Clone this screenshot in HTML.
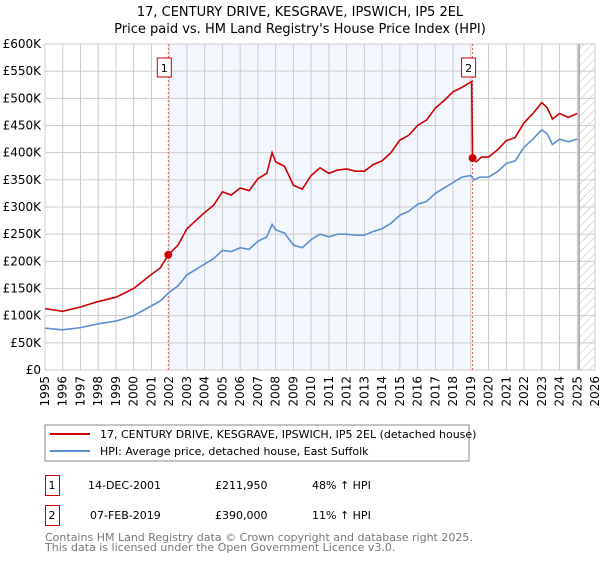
<!DOCTYPE html>
<html><head><meta charset="utf-8"><style>
body{margin:0;background:#fff;width:600px;height:560px;overflow:hidden;font-family:"DejaVu Sans","Liberation Sans",sans-serif}
svg text{font-family:"DejaVu Sans","Liberation Sans",sans-serif}
</style></head><body>
<svg id="chart" width="600" height="560">
<defs><pattern id="hatch" width="6" height="6" patternUnits="userSpaceOnUse" patternTransform="rotate(45)"><line x1="0" y1="0" x2="0" y2="6" stroke="#bbb" stroke-width="1"/></pattern></defs>
<text x="300" y="16" text-anchor="middle" font-size="13">17, CENTURY DRIVE, KESGRAVE, IPSWICH, IP5 2EL</text>
<text x="300" y="33" text-anchor="middle" font-size="13">Price paid vs. HM Land Registry's House Price Index (HPI)</text>
<g id="plot"></g>
<rect x="45" y="425" width="424" height="36" fill="#fff" stroke="#888"/>
<line x1="50" y1="434" x2="90" y2="434" stroke="#cc0000" stroke-width="2"/>
<text x="100" y="438" font-size="11">17, CENTURY DRIVE, KESGRAVE, IPSWICH, IP5 2EL (detached house)</text>
<line x1="50" y1="451" x2="90" y2="451" stroke="#5b8fd0" stroke-width="2"/>
<text x="100" y="455" font-size="11">HPI: Average price, detached house, East Suffolk</text>
<g font-size="11">
<rect x="45.5" y="475.5" width="14" height="20" fill="none" stroke="#cc0000"/>
<text x="52" y="489" text-anchor="middle">1</text>
<text x="88" y="489">14-DEC-2001</text><text x="215" y="489">£211,950</text><text x="312" y="489">48% ↑ HPI</text></g>
<g font-size="11">
<rect x="45.5" y="505.5" width="14" height="20" fill="none" stroke="#cc0000"/>
<text x="52" y="519" text-anchor="middle">2</text>
<text x="90" y="519">07-FEB-2019</text><text x="215" y="519">£390,000</text><text x="312" y="519">11% ↑ HPI</text></g>
<text x="45" y="541" font-size="11" fill="#777">Contains HM Land Registry data © Crown copyright and database right 2025.</text>
<text x="45" y="551" font-size="11" fill="#777">This data is licensed under the Open Government Licence v3.0.</text>
</svg>
<script>
const yTicks=[0,50,100,150,200,250,300,350,400,450,500,550,600];
const yLabels=["£0","£50K","£100K","£150K","£200K","£250K","£300K","£350K","£400K","£450K","£500K","£550K","£600K"];
const years=[1995,1996,1997,1998,1999,2000,2001,2002,2003,2004,2005,2006,2007,2008,2009,2010,2011,2012,2013,2014,2015,2016,2017,2018,2019,2020,2021,2022,2023,2024,2025,2026];
const hpiT=[1995,1996,1997,1998,1999,2000,2001,2001.5,2002,2002.5,2003,2004,2004.5,2005,2005.5,2006,2006.5,2007,2007.5,2007.8,2008,2008.5,2009,2009.5,2010,2010.5,2011,2011.5,2012,2012.5,2013,2013.5,2014,2014.5,2015,2015.5,2016,2016.5,2017,2017.5,2018,2018.5,2019,2019.2,2019.5,2020,2020.5,2021,2021.5,2022,2022.5,2023,2023.3,2023.6,2024,2024.5,2025];
const hpiV=[77,74,78,85,90,100,118,127,143,155,175,195,205,220,218,225,222,237,245,268,258,252,230,225,240,250,245,250,250,248,248,255,260,270,285,292,305,310,325,335,345,355,358,350,355,355,365,380,385,410,425,442,435,415,425,420,425];
const priceT=[1995,1996,1997,1998,1999,2000,2001,2001.5,2001.95,2002.5,2003,2004,2004.5,2005,2005.5,2006,2006.5,2007,2007.5,2007.8,2008,2008.5,2009,2009.5,2010,2010.5,2011,2011.5,2012,2012.5,2013,2013.5,2014,2014.5,2015,2015.5,2016,2016.5,2017,2017.5,2018,2018.5,2019.05,2019.1,2019.3,2019.6,2020,2020.5,2021,2021.5,2022,2022.5,2023,2023.3,2023.6,2024,2024.5,2025];
const priceV=[113,108,116,126,134,150,176,188,212,230,260,290,303,328,322,335,330,352,362,400,383,375,340,333,358,372,362,368,370,366,366,378,385,400,423,432,450,460,482,496,512,520,531,390,383,392,392,405,422,428,455,472,492,483,462,472,465,472];
const saleT=[2001.95,2019.1];
const saleV=[211.95,390];
const saleLabels=["1","2"];
const X0=45,X1=595,Y0=370,Y1=44;
const x=t=>X0+(t-1995)/(2026-1995)*(X1-X0);
const y=v=>Y0-v/600*(Y0-Y1);
const NS="http://www.w3.org/2000/svg";
const g=document.getElementById('plot');
function mk(tag,at){const e=document.createElementNS(NS,tag);for(const k in at)e.setAttribute(k,at[k]);g.appendChild(e);return e;}
let e;
e=mk('rect',{x:x(saleT[0]),y:Y1,width:x(saleT[1])-x(saleT[0]),height:Y0-Y1,fill:'#f3f6fd'});


e=mk('rect',{x:x(2025.1),y:Y1,width:X1-x(2025.1),height:Y0-Y1,fill:'url(#hatch)'});


yTicks.forEach((v,i)=>{
 e=mk('line',{x1:X0,x2:X1,y1:y(v),y2:y(v),stroke:'#ccc'});
 
 
 e=mk('text',{x:X0-4,y:y(v)+4,'text-anchor':'end','font-size':'12'});e.textContent=yLabels[i];
 
 
});
years.forEach(t=>{
 e=mk('line',{x1:x(t),x2:x(t),y1:Y1,y2:Y0,stroke:'#ccc'});
 
 
 e=mk('text',{x:0,y:0,'text-anchor':'end','font-size':'12',transform:`translate(${x(t)+4},${Y0+6}) rotate(-90)`});e.textContent=t;
 
 
});
e=mk('line',{x1:x(2025.1),x2:x(2025.1),y1:Y1,y2:Y0,stroke:'#999','stroke-width':1.5});


e=mk('rect',{x:X0,y:Y1,width:X1-X0,height:Y0-Y1,fill:'none',stroke:'#ccc'});


saleT.forEach((t,i)=>{
 e=mk('line',{x1:x(t),x2:x(t),y1:Y1,y2:Y0,stroke:'#e06060','stroke-dasharray':'2,2'});
 
 
});
e=mk('polyline',{points:hpiT.map((t,i)=>x(t)+','+y(hpiV[i])).join(' '),fill:'none',stroke:'#5b8fd0','stroke-width':1.6});


e=mk('polyline',{points:priceT.map((t,i)=>x(t)+','+y(priceV[i])).join(' '),fill:'none',stroke:'#cc0000','stroke-width':1.6});


saleT.forEach((t,i)=>{
 e=mk('circle',{cx:x(t),cy:y(saleV[i]),r:4,fill:'#cc0000'});
 
 
 e=mk('rect',{x:x(t)-11,y:58,width:14,height:19,fill:'#fff',stroke:'#cc0000'});
 
 
 e=mk('text',{x:x(t)-4,y:72,'text-anchor':'middle','font-size':'11'});e.textContent=saleLabels[i];
 
 
});
</script>
</body></html>
